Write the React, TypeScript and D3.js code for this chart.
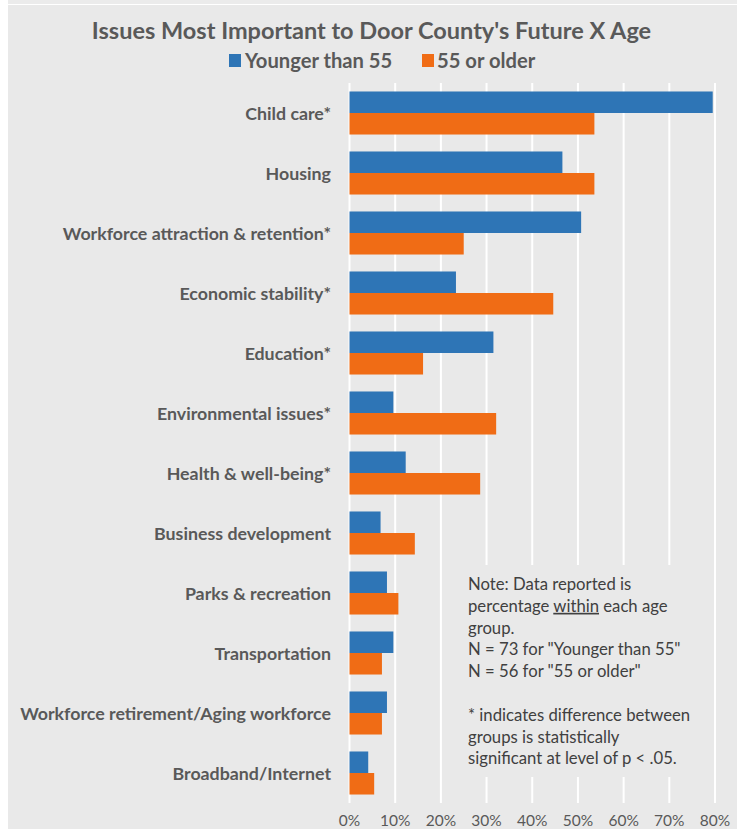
import React from "react";
import * as d3 from "d3";

const categories = [
  "Child care*",
  "Housing",
  "Workforce attraction & retention*",
  "Economic stability*",
  "Education*",
  "Environmental issues*",
  "Health & well-being*",
  "Business development",
  "Parks & recreation",
  "Transportation",
  "Workforce retirement/Aging workforce",
  "Broadband/Internet",
];
const younger = [79.5, 46.6, 50.7, 23.3, 31.5, 9.6, 12.3, 6.8, 8.2, 9.6, 8.2, 4.1];
const older = [53.6, 53.6, 25.0, 44.6, 16.1, 32.1, 28.6, 14.3, 10.7, 7.1, 7.1, 5.4];
const seriesNames = ["Younger than 55", "55 or older"];
const seriesColors = ["#2e75b6", "#f06c15"];
const xTicks = [0, 10, 20, 30, 40, 50, 60, 70, 80];
const title = "Issues Most Important to Door County's Future X Age";
const noteLines = [
  ["Note: Data reported is"],
  ["percentage ", "within", " each age"],
  ["group."],
  ['N = 73 for "Younger than 55"'],
  ['N = 56 for "55 or older"'],
  [""],
  ["* indicates difference between"],
  ["groups is statistically"],
  ["significant at level of p < .05."],
];

const W = 737;
const H = 829;
const FONT = "Lato, 'Open Sans', sans-serif";

export default function App() {
  const x = d3.scaleLinear().domain([0, 80]).range([349.5, 715]);
  const y = d3
    .scaleBand<string>()
    .domain(categories)
    .range([83, 803])
    .paddingInner(0.283)
    .paddingOuter(0.1415);
  const inner = d3
    .scaleBand<string>()
    .domain(seriesNames)
    .range([0, y.bandwidth()]);
  const values = [younger, older];

  return (
    <div style={{ position: "absolute", left: 0, top: 0 }}>
      <svg width={W} height={H} style={{ display: "block" }} fontFamily={FONT}>
        <rect x={0} y={0} width={W} height={H} fill="#ffffff" />
        <rect x={8} y={0} width={W - 8} height={4} fill="#ebebeb" />
        <rect x={8} y={5} width={W - 8} height={H - 5} fill="#e9e9e9" />

        {/* gridlines */}
        {xTicks.map((t) => (
          <line
            key={t}
            x1={x(t)}
            x2={x(t)}
            y1={y.range()[0]}
            y2={y.range()[1]}
            stroke="#ffffff"
            strokeWidth={2}
          />
        ))}

        {/* bars */}
        {categories.map((c, i) => (
          <g key={c}>
            {seriesNames.map((s, k) => (
              <rect
                key={s}
                x={x(0)}
                y={(y(c) as number) + (inner(s) as number)}
                width={x(values[k][i]) - x(0)}
                height={inner.bandwidth()}
                fill={seriesColors[k]}
              />
            ))}
            <text
              x={331}
              y={(y(c) as number) + y.bandwidth() / 2}
              textAnchor="end"
              dominantBaseline="central"
              fontSize={17.8}
              fontWeight={700}
              fill="#595959"
            >
              {c}
            </text>
          </g>
        ))}

        {/* x tick labels */}
        {xTicks.map((t) => (
          <text
            key={t}
            x={x(t)}
            y={820}
            textAnchor="middle"
            dominantBaseline="central"
            fontSize={15.5}
            fill="#595959"
          >
            {d3.format(".0%")(t / 100)}
          </text>
        ))}

        {/* note box */}
        <rect x={452} y={565} width={260} height={212} fill="#e9e9e9" />
        <text x={468} fontSize={16.7} fill="#404040">
          {noteLines.map((parts, li) => (
            <tspan key={li} x={468} y={590 + li * 21.8}>
              {parts.map((p, pi) =>
                p === "within" ? (
                  <tspan key={pi} textDecoration="underline">
                    {p}
                  </tspan>
                ) : (
                  <tspan key={pi}>{p}</tspan>
                )
              )}
            </tspan>
          ))}
        </text>

        {/* title */}
        <text
          x={371.5}
          y={30}
          textAnchor="middle"
          dominantBaseline="central"
          fontSize={23.5}
          fontWeight={700}
          fill="#595959"
        >
          {title}
        </text>

        {/* legend */}
        <g>
          <rect x={229} y={54} width={12} height={13} fill={seriesColors[0]} />
          <text x={245} y={59.5} dominantBaseline="central" fontSize={20.2} fontWeight={700} fill="#595959">
            {seriesNames[0]}
          </text>
          <rect x={422} y={54} width={12} height={13} fill={seriesColors[1]} />
          <text x={437} y={59.5} dominantBaseline="central" fontSize={20.2} fontWeight={700} fill="#595959">
            {seriesNames[1]}
          </text>
        </g>
      </svg>
    </div>
  );
}
